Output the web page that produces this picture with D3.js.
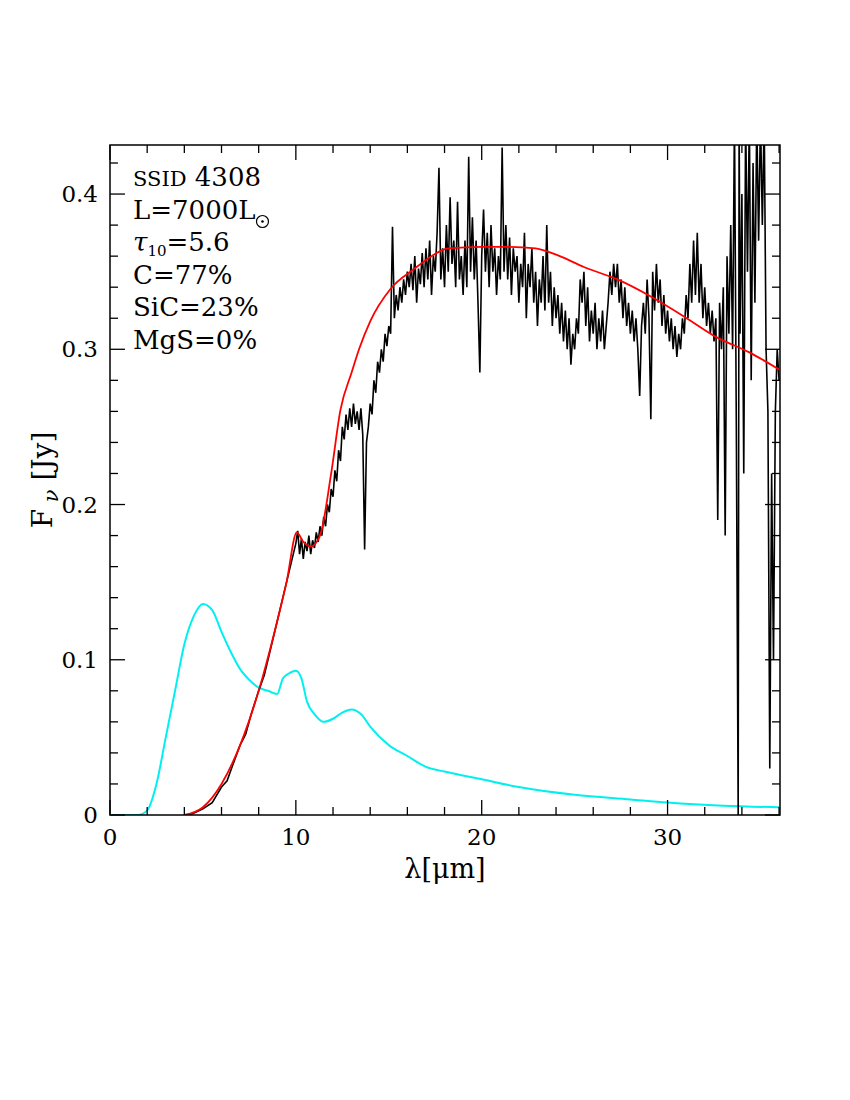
<!DOCTYPE html>
<html><head><meta charset="utf-8">
<script src="https://cdn.jsdelivr.net/npm/d3@7"></script>
<style>body{margin:0;background:#fff}</style></head>
<body><svg id="c" width="850" height="1100"></svg>
<script>
const xTicks=[0,10,20,30];
const yTicks=[0,0.1,0.2,0.3,0.4];
const legendLines=["SSID  4308","L=7000L","τ10=5.6","C=77%","SiC=23%","MgS=0%"];
const modelX=[4,5,6,7,8,9,9.5,10.05,10.4,10.8,11.3,11.9,12.4,13.0,13.4,14.0,15.1,16.4,17.3,18.2,20,21.5,22.9,24.2,25.5,27.3,29.1,30.9,32.6,34.4,36];
const modelY=[0,0.005,0.02,0.045,0.08,0.125,0.15,0.182,0.176,0.173,0.18,0.22,0.261,0.285,0.30,0.318,0.339,0.352,0.36,0.365,0.366,0.366,0.365,0.36,0.353,0.345,0.334,0.321,0.308,0.298,0.287];
const cyanX=[0,1.5,2,2.5,3,3.5,4,4.5,5,5.5,6,6.5,7,7.5,8,8.5,9,9.3,9.6,10,10.3,10.6,11,11.5,12,12.5,13,13.5,14,15,16,17,18,20,22,25,28,30,33,36];
const cyanY=[0,0,0.003,0.02,0.05,0.08,0.11,0.128,0.136,0.132,0.118,0.105,0.094,0.087,0.082,0.08,0.078,0.088,0.091,0.093,0.088,0.073,0.065,0.06,0.062,0.066,0.068,0.065,0.057,0.045,0.038,0.031,0.028,0.023,0.018,0.013,0.01,0.008,0.006,0.005];
const specX=[4.3,5,5.5,6,6.3,6.6,7,7.3,7.6,8,8.3,8.6,9,9.3,9.6,9.8,10.0,10.1,10.2,10.3,10.4,10.5,10.6,10.7,10.8,10.9,11.0,11.1,11.2,11.3,11.4,11.5,11.6,11.7,11.8,11.9,12.0,12.1,12.2,12.3,12.4,12.5,12.6,12.7,12.8,12.9,13.0,13.1,13.2,13.3,13.4,13.5,13.6,13.7,13.8,13.9,14.0,14.1,14.2,14.3,14.4,14.5,14.6,14.7,14.8,14.9,15.0,15.1,15.2,15.3,15.4,15.5,15.6,15.7,15.8,15.9,16.0,16.1,16.2,16.3,16.4,16.5,16.6,16.7,16.8,16.9,17.0,17.1,17.2,17.3,17.4,17.5,17.6,17.7,17.8,17.9,18.0,18.1,18.2,18.3,18.4,18.5,18.6,18.7,18.8,18.9,19.0,19.1,19.2,19.3,19.4,19.5,19.6,19.7,19.8,19.9,20.0,20.1,20.2,20.3,20.4,20.5,20.6,20.7,20.8,20.9,21.0,21.1,21.2,21.3,21.4,21.5,21.6,21.7,21.8,21.9,22.0,22.1,22.2,22.3,22.4,22.5,22.6,22.7,22.8,22.9,23.0,23.1,23.2,23.3,23.4,23.5,23.6,23.7,23.8,23.9,24.0,24.1,24.2,24.3,24.4,24.5,24.6,24.7,24.8,24.9,25.0,25.1,25.2,25.3,25.4,25.5,25.6,25.7,25.8,25.9,26.0,26.1,26.2,26.3,26.4,26.5,26.6,26.7,26.8,26.9,27.0,27.1,27.2,27.3,27.4,27.5,27.6,27.7,27.8,27.9,28.0,28.1,28.2,28.3,28.4,28.5,28.6,28.7,28.8,28.9,29.0,29.1,29.2,29.3,29.4,29.5,29.6,29.7,29.8,29.9,30.0,30.1,30.2,30.3,30.4,30.5,30.6,30.7,30.8,30.9,31.0,31.1,31.2,31.3,31.4,31.5,31.6,31.7,31.8,31.9,32.0,32.1,32.2,32.3,32.4,32.5,32.6,32.7,32.8,32.9,33.0,33.1,33.2,33.3,33.4,33.5,33.6,33.7,33.8,33.85,33.9,34.0,34.1,34.2,34.3,34.4,34.5,34.6,34.7,34.8,34.9,35.0,35.1,35.2,35.3,35.4,35.5,35.6,35.7,35.8,35.9,36.0];
const specY=[0,0.004,0.008,0.018,0.022,0.032,0.045,0.052,0.065,0.08,0.09,0.105,0.125,0.14,0.155,0.165,0.175,0.183,0.168,0.178,0.165,0.176,0.17,0.18,0.168,0.177,0.172,0.182,0.176,0.186,0.18,0.192,0.186,0.2,0.195,0.21,0.205,0.222,0.215,0.235,0.228,0.25,0.242,0.258,0.248,0.262,0.25,0.265,0.252,0.26,0.248,0.262,0.245,0.171,0.24,0.25,0.265,0.258,0.28,0.272,0.292,0.285,0.3,0.292,0.31,0.302,0.315,0.31,0.379,0.32,0.335,0.325,0.34,0.33,0.345,0.335,0.35,0.34,0.355,0.338,0.36,0.33,0.352,0.342,0.362,0.34,0.365,0.345,0.37,0.335,0.36,0.35,0.375,0.417,0.345,0.365,0.34,0.38,0.35,0.398,0.355,0.37,0.34,0.395,0.345,0.36,0.335,0.37,0.34,0.424,0.35,0.385,0.345,0.37,0.33,0.285,0.36,0.39,0.35,0.375,0.34,0.38,0.35,0.365,0.335,0.36,0.345,0.43,0.35,0.38,0.345,0.372,0.335,0.365,0.35,0.36,0.33,0.355,0.34,0.375,0.32,0.355,0.34,0.365,0.33,0.35,0.315,0.345,0.33,0.36,0.325,0.38,0.33,0.35,0.315,0.34,0.32,0.335,0.31,0.33,0.305,0.325,0.3,0.32,0.29,0.31,0.3,0.32,0.31,0.345,0.33,0.35,0.315,0.34,0.305,0.325,0.31,0.33,0.3,0.32,0.305,0.325,0.3,0.315,0.33,0.35,0.335,0.355,0.34,0.355,0.33,0.345,0.32,0.34,0.315,0.33,0.31,0.325,0.305,0.32,0.3,0.27,0.315,0.33,0.31,0.345,0.32,0.255,0.35,0.325,0.355,0.33,0.345,0.315,0.335,0.31,0.325,0.305,0.32,0.3,0.315,0.295,0.31,0.3,0.32,0.31,0.335,0.32,0.355,0.33,0.37,0.335,0.375,0.33,0.355,0.32,0.34,0.315,0.33,0.31,0.325,0.305,0.32,0.19,0.33,0.30,0.34,0.18,0.36,0.31,0.38,0.3,0.45,0.25,0,0.45,0.31,0.4,0.22,0.45,0.35,0.45,0.28,0.42,0.33,0.45,0.37,0.45,0.38,0.45,0.3,0.26,0.03,0.22,0.1,0.26,0.3,0.28];

const svg=d3.select("#c");
const L=110,R=780,T=145,B=815;
const x=d3.scaleLinear().domain([0,36.05]).range([L,R]);
const y=d3.scaleLinear().domain([0,0.4316]).range([B,T]);
const font="DejaVu Serif";
svg.append("clipPath").attr("id","cp").append("rect").attr("x",L).attr("y",T).attr("width",R-L).attr("height",B-T);
const g=svg.append("g").attr("clip-path","url(#cp)");
const line=d3.line().x(d=>x(d[0])).y(d=>y(d[1]));
const smooth=d3.line().x(d=>x(d[0])).y(d=>y(d[1])).curve(d3.curveMonotoneX);
g.append("path").attr("d",smooth(d3.zip(cyanX,cyanY))).attr("fill","none").attr("stroke","#00f0f0").attr("stroke-width",2);
g.append("path").attr("d",line(d3.zip(specX,specY))).attr("fill","none").attr("stroke","#000").attr("stroke-width",1.6);
g.append("path").attr("d",smooth(d3.zip(modelX,modelY))).attr("fill","none").attr("stroke","#f00").attr("stroke-width",1.8);
svg.append("rect").attr("x",L).attr("y",T).attr("width",R-L).attr("height",B-T).attr("fill","none").attr("stroke","#000").attr("stroke-width",1.5);
const tk=svg.append("g").attr("stroke","#000").attr("stroke-width",1.3);
d3.range(0,36.01,2).forEach(v=>{const len=v%10===0?15:8;
 tk.append("line").attr("x1",x(v)).attr("x2",x(v)).attr("y1",B).attr("y2",B-len);
 tk.append("line").attr("x1",x(v)).attr("x2",x(v)).attr("y1",T).attr("y2",T+len);});
d3.range(0,0.431,0.02).forEach(v=>{const len=Math.round(v*100)%10===0?15:8;
 tk.append("line").attr("y1",y(v)).attr("y2",y(v)).attr("x1",L).attr("x2",L+len);
 tk.append("line").attr("y1",y(v)).attr("y2",y(v)).attr("x1",R).attr("x2",R-len);});
xTicks.forEach(v=>svg.append("text").attr("x",x(v)).attr("y",B+30).attr("text-anchor","middle").attr("font-family",font).attr("font-size",23).text(v));
yTicks.forEach(v=>svg.append("text").attr("x",L-12).attr("y",y(v)+8).attr("text-anchor","end").attr("font-family",font).attr("font-size",23).text(v===0?"0":v.toFixed(1)));
svg.append("text").attr("x",445).attr("y",878).attr("text-anchor","middle").attr("font-family",font).attr("font-size",27).text("λ[μm]");
const yl=svg.append("text").attr("transform","translate(52,480) rotate(-90)").attr("text-anchor","middle").attr("font-family",font).attr("font-size",28);
yl.append("tspan").text("F");yl.append("tspan").attr("dy",6).attr("font-size",21).attr("font-style","italic").text(" ν");yl.append("tspan").attr("dy",-6).text("  [Jy]");
const lx=133, ly0=186, dy=32.5, fs=26;
const t0=svg.append("text").attr("x",lx).attr("y",ly0).attr("font-family",font).attr("font-size",fs);
t0.append("tspan").attr("font-size",21).text("SSID");t0.append("tspan").text("  4308");
const t1=svg.append("text").attr("x",lx).attr("y",ly0+dy).attr("font-family",font).attr("font-size",fs).text("L=7000L");
const w1=t1.node().getComputedTextLength();
svg.append("circle").attr("cx",lx+w1+7).attr("cy",ly0+dy+3).attr("r",6).attr("fill","none").attr("stroke","#000").attr("stroke-width",1.2);
svg.append("circle").attr("cx",lx+w1+7).attr("cy",ly0+dy+3).attr("r",1.3).attr("fill","#000");
const t2=svg.append("text").attr("x",lx).attr("y",ly0+2*dy).attr("font-family",font).attr("font-size",fs);
t2.append("tspan").attr("font-style","italic").text("τ");t2.append("tspan").attr("dy",5).attr("font-size",15).text("10");t2.append("tspan").attr("dy",-5).text("=5.6");
legendLines.slice(3).forEach((s,i)=>svg.append("text").attr("x",lx).attr("y",ly0+(3+i)*dy).attr("font-family",font).attr("font-size",fs).text(s));
</script></body></html>
